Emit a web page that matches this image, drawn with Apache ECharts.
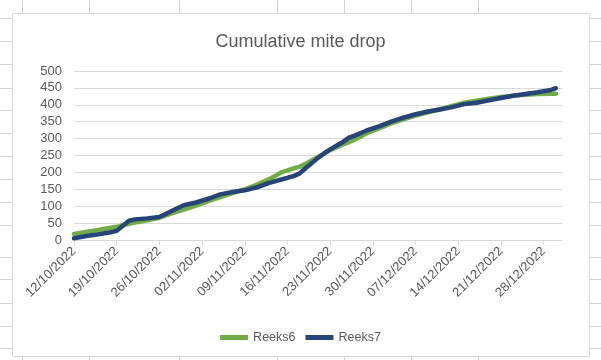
<!DOCTYPE html>
<html>
<head>
<meta charset="utf-8">
<script src="https://cdn.jsdelivr.net/npm/echarts@6/dist/echarts.min.js"></script>
<style>
html,body{margin:0;padding:0;background:#fff;}
#c{width:601px;height:360px;}
</style>
</head>
<body>
<div id="c"></div>
<script>
// ---- data ----
const startDate = '12/10/2022';
const dayCount = 81; // 12/10/2022 .. 31/12/2022
const sampleDates = ['12/10/2022','14/10/2022','16/10/2022','18/10/2022','19/10/2022','21/10/2022','22/10/2022','24/10/2022','26/10/2022','28/10/2022','30/10/2022','01/11/2022','03/11/2022','05/11/2022','07/11/2022','09/11/2022','11/11/2022','13/11/2022','15/11/2022','17/11/2022','18/11/2022','19/11/2022','21/11/2022','22/11/2022','23/11/2022','25/11/2022','26/11/2022','27/11/2022','29/11/2022','01/12/2022','03/12/2022','05/12/2022','07/12/2022','09/12/2022','11/12/2022','13/12/2022','15/12/2022','17/12/2022','19/12/2022','21/12/2022','23/12/2022','25/12/2022','27/12/2022','29/12/2022','30/12/2022'];
const reeks6 = [18,24,30,36,39,48,52,58,66,79,90,102,115,127,139,150,164,180,200,212,217,226,246,256,266,282,289,297,316,330,345,357,368,378,387,397,406,412,418,423,427,430,432,433,433];
const reeks7 = [5,12,17,23,27,57,61,64,68,86,103,111,122,135,142,147,156,169,179,189,197,213,243,256,268,289,302,309,324,336,350,362,372,380,386,393,402,406,413,420,427,432,437,443,449];
const seriesNames = ['Reeks6','Reeks7'];
const yTicks = {min: 0, max: 500, interval: 50};

// build the daily category list (axis categories)
function buildDays(start, n){
  const [d,m,y] = start.split('/').map(Number);
  const out = [];
  for (let i = 0; i < n; i++){
    const dt = new Date(Date.UTC(y, m-1, d + i));
    const dd = String(dt.getUTCDate()).padStart(2,'0');
    const mm = String(dt.getUTCMonth()+1).padStart(2,'0');
    out.push(dd + '/' + mm + '/' + dt.getUTCFullYear());
  }
  return out;
}
const categories = buildDays(startDate, dayCount);

const FONT = 'Liberation Sans';
const gridRows = [18,41,64,88,110,133,156,179,202,225,257,279,303,326,348];
const gridCols = [22,89,179,277,344,411,478];
const bg = [];
gridRows.forEach(y => bg.push({type:'line', z:-100, silent:true, shape:{x1:0,y1:y+0.5,x2:601,y2:y+0.5}, style:{stroke:'#d4d4d4', lineWidth:1}}));
gridCols.forEach(x => bg.push({type:'line', z:-100, silent:true, shape:{x1:x+0.5,y1:0,x2:x+0.5,y2:360}, style:{stroke:'#d4d4d4', lineWidth:1}}));
bg.push({type:'rect', z:-90, silent:true, shape:{x:12.5,y:13.5,width:577,height:343}, style:{fill:'#fff', stroke:'#d9d9d9', lineWidth:1}});

const chart = echarts.init(document.getElementById('c'), null, {renderer:'canvas'});
chart.setOption({
  backgroundColor: '#fff',
  animation: false,
  graphic: {elements: bg},
  title: {
    text: 'Cumulative mite drop',
    left: 'center', top: 28,
    textStyle: {fontFamily: FONT, fontSize: 18, fontWeight: 'normal', color: '#595959'}
  },
  legend: {
    data: seriesNames,
    left: 'center', top: 326,
    icon: 'rect', itemWidth: 28, itemHeight: 5, itemGap: 10,
    textStyle: {fontFamily: FONT, fontSize: 12.5, color: '#595959'}
  },
  grid: {left: 74, right: 39, top: 71, bottom: 120, containLabel: false},
  xAxis: {
    type: 'category', data: categories, boundaryGap: false,
    axisLine: {lineStyle: {color: '#d9d9d9'}},
    axisTick: {show: true, interval: 6, length: 5, lineStyle: {color: '#d9d9d9'}},
    axisLabel: {interval: 6, rotate: 45, margin: 9, color: '#595959', fontFamily: FONT, fontSize: 13},
    splitLine: {show: false}
  },
  yAxis: {
    type: 'value', min: yTicks.min, max: yTicks.max, interval: yTicks.interval,
    axisLine: {show: false}, axisTick: {show: false},
    axisLabel: {margin: 12, color: '#595959', fontFamily: FONT, fontSize: 13},
    splitLine: {lineStyle: {color: '#d9d9d9', width: 1}}
  },
  series: [
    {name: seriesNames[0], type: 'line', data: sampleDates.map((d,i)=>[d, reeks6[i]]), showSymbol: false, symbol: 'none',
     lineStyle: {color: '#70ad47', width: 4.5, cap: 'round', join: 'round'}, itemStyle: {color: '#70ad47'}, z: 2},
    {name: seriesNames[1], type: 'line', data: sampleDates.map((d,i)=>[d, reeks7[i]]), showSymbol: false, symbol: 'none',
     lineStyle: {color: '#264478', width: 4.5, cap: 'round', join: 'round'}, itemStyle: {color: '#264478'}, z: 3}
  ]
});
</script>
</body>
</html>
